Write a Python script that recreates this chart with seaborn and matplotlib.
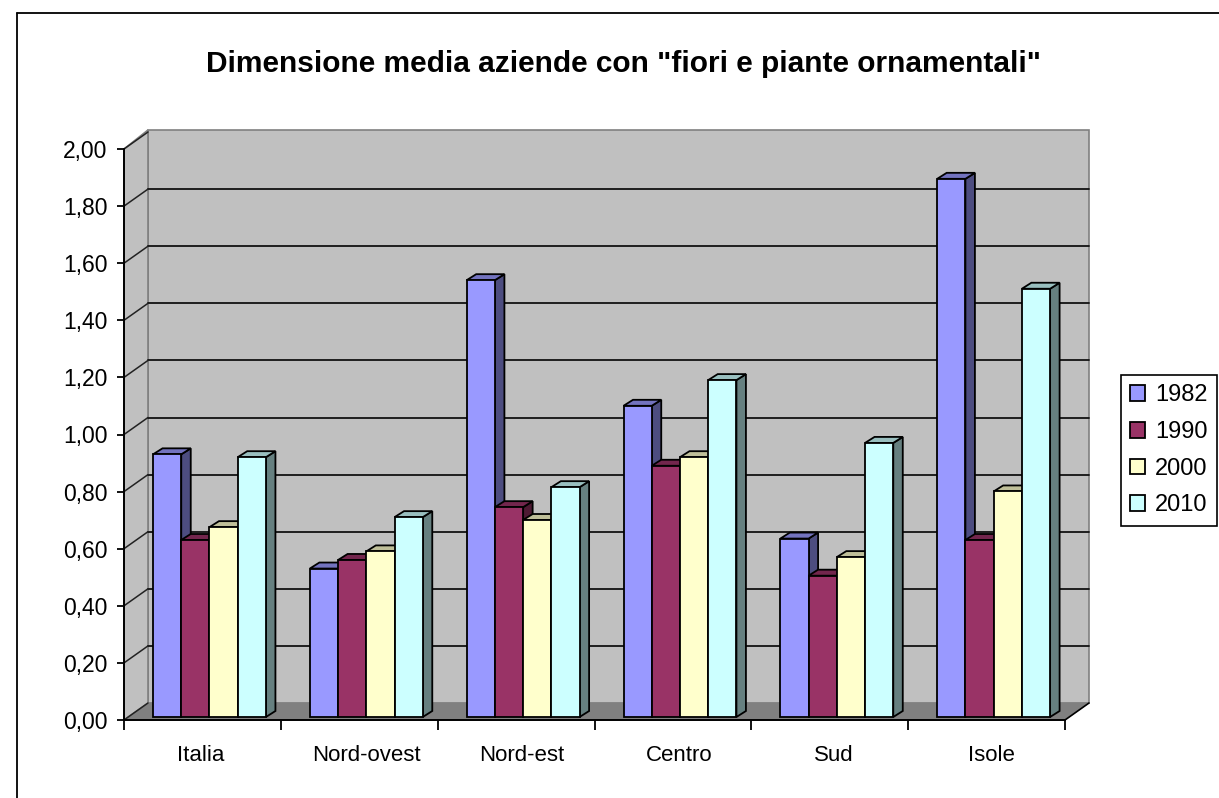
import matplotlib
matplotlib.use('Agg')
import matplotlib.pyplot as plt
import pandas as pd
import seaborn as sns
from matplotlib.lines import Line2D
from matplotlib.patches import Patch, Polygon

# Dati
aree = ['Italia', 'Nord-ovest', 'Nord-est', 'Centro', 'Sud', 'Isole']
anni = ['1982', '1990', '2000', '2010']
v1982 = [0.92, 0.52, 1.53, 1.09, 0.625, 1.885]
v1990 = [0.62, 0.55, 0.735, 0.88, 0.495, 0.62]
v2000 = [0.665, 0.58, 0.69, 0.91, 0.56, 0.79]
v2010 = [0.91, 0.70, 0.805, 1.18, 0.96, 1.50]
colori = ['#9999FF', '#993366', '#FFFFCC', '#CCFFFF']
tick_y = [0, 0.2, 0.4, 0.6, 0.8, 1.0, 1.2, 1.4, 1.6, 1.8, 2.0]

df = pd.DataFrame({'area': aree, '1982': v1982, '1990': v1990, '2000': v2000, '2010': v2010})
df = df.melt(id_vars='area', var_name='anno', value_name='valore')

sns.set_theme(style='white')
plt.rcParams['font.family'] = ['Liberation Sans', 'DejaVu Sans']

W, H = 1219, 798
fig = plt.figure(figsize=(W / 100, H / 100), dpi=100, facecolor='white')
# area del grafico in pixel: asse frontale x 124-1065, y 720-149
pos = [124 / W, 1 - 720 / H, (1065 - 124) / W, (720 - 149) / H]

# Pareti e pavimento
bg = fig.add_axes(pos, zorder=1)
bg.set_xlim(0, 6)
bg.set_ylim(0, 2)
bg.patch.set_alpha(0)
dx = 24 / (941 / 6)
dy = 17 / (571 / 2)
top = 2 + dy + 2 / 285.5
bg.add_patch(Polygon([(dx, dy), (6 + dx, dy), (6 + dx, top), (dx, top)], fc='#C0C0C0', ec='#808080', lw=1.2, clip_on=False))
bg.add_patch(Polygon([(0, 0), (dx, dy), (dx, top), (0, 2)], fc='#C0C0C0', ec='#808080', lw=1.2, clip_on=False))
bg.add_patch(Polygon([(0, 0), (6, 0), (6 + dx, dy), (dx, dy)], fc='#808080', ec='#808080', lw=0.5, clip_on=False))
for t in tick_y[1:-1]:
    bg.plot([dx, 6 + dx], [t + dy, t + dy], color='#111111', lw=1.3, clip_on=False)
for t in tick_y:
    bg.plot([0, dx], [t, t + dy], color='#222222', lw=1.1, clip_on=False)
bg.plot([6, 6 + dx], [0, dy], color='black', lw=1.2, clip_on=False)

for s in ['top', 'right']:
    bg.spines[s].set_visible(False)
for s in ['left', 'bottom']:
    bg.spines[s].set_linewidth(1.4)
    bg.spines[s].set_color('black')
bg.set_yticks(tick_y)
bg.set_yticklabels([f'{t:.2f}'.replace('.', ',') for t in tick_y], fontsize=16.5, color='black')
bg.set_xticks(range(7))
bg.set_xticklabels([])
bg.set_xticks([(p - 124) / (941 / 6) for p in [201, 366, 522, 679, 834, 991]], minor=True)
bg.set_xticklabels(aree, minor=True, fontsize=16, color='black')
bg.tick_params(axis='y', which='major', left=True, length=5, width=1.3, pad=7, color='black')
bg.tick_params(axis='x', which='major', bottom=True, length=7, width=1.3, color='black')
bg.tick_params(axis='x', which='minor', bottom=False, length=0, pad=18)

# Barre
ax = fig.add_axes(pos, zorder=2)
sns.barplot(data=df, x='area', y='valore', hue='anno', hue_order=anni, order=aree, palette=colori,
            width=0.72, gap=0, saturation=1, edgecolor='black', linewidth=1.3, ax=ax, legend=False)
ax.set_xlim(-0.545, 5.455)
ax.set_ylim(-3 / 285.5, 2 - 3 / 285.5)
ax.axis('off')

# Parte 3D delle barre: facciata superiore e laterale
px = 9.5 / (941 / 6)
py = 6 / 285.5
for i, cont in enumerate(ax.containers):
    c = colori[i]
    rgb = matplotlib.colors.to_rgb(c)
    sopra = tuple(v * 0.75 for v in rgb)
    lato = tuple(v * 0.5 for v in rgb)
    for j, bar in enumerate(cont.patches):
        x0 = bar.get_x()
        x1 = x0 + bar.get_width()
        h = bar.get_height()
        z = 3 + j * 10 + i
        ax.add_patch(Polygon([(x1, 0), (x1 + px, py), (x1 + px, h + py), (x1, h)], fc=lato, ec='black', lw=1.3, zorder=z, clip_on=False))
        ax.add_patch(Polygon([(x0, h), (x0 + px, h + py), (x1 + px, h + py), (x1, h)], fc=sopra, ec='black', lw=1.3, zorder=z, clip_on=False))
        bar.set_zorder(z + 0.5)
        bar.set_clip_on(False)

# Titolo, cornice e legenda
fig.text(624 / W, 1 - 64 / H, 'Dimensione media aziende con "fiori e piante ornamentali"', ha='center', va='center',
         fontsize=21.5, fontweight='bold', color='black')
fig.add_artist(Line2D([17 / W, 17 / W], [0, 1 - 13 / H], color='black', lw=1.3))
fig.add_artist(Line2D([17 / W, 1], [1 - 13 / H, 1 - 13 / H], color='black', lw=1.3))

handles = [Patch(fc=c, ec='black', lw=1.3, label=a) for c, a in zip(colori, anni)]
leg = fig.legend(handles=handles, loc='upper left', bbox_to_anchor=(1121 / W, 1 - 375 / H), bbox_transform=fig.transFigure,
                 fontsize=17, frameon=True, fancybox=False, edgecolor='black', framealpha=1, borderaxespad=0,
                 handlelength=0.63, handleheight=0.63, handletextpad=0.42, labelspacing=0.62, borderpad=0.4, labelcolor='black')
leg.get_frame().set_linewidth(1.2)

fig.savefig('out.png', dpi=100)
